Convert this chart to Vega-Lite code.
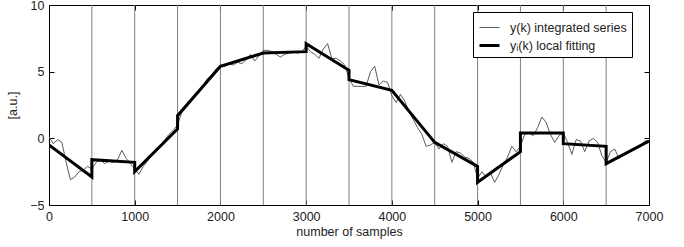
{
  "$schema": "https://vega.github.io/schema/vega-lite/v6.json",
  "width": 600,
  "height": 200,
  "autosize": "none",
  "padding": {"left": 49, "top": 5, "right": 35, "bottom": 42},
  "background": "white",
  "config": {
    "view": {"stroke": "black", "strokeWidth": 1},
    "font": "Liberation Sans",
    "axis": {
      "domain": false,
      "grid": false,
      "tickColor": "black",
      "tickSize": -5,
      "labelFontSize": 12.5,
      "labelColor": "#222",
      "titleFontSize": 12.5,
      "titleFontWeight": "normal",
      "titleColor": "#222"
    }
  },
  "datasets": {
    "series": [
      {"s": "y(k) integrated series", "k": 0, "v": 0.1, "i": 0},
      {"s": "y(k) integrated series", "k": 50, "v": -0.4, "i": 1},
      {"s": "y(k) integrated series", "k": 100, "v": -0.1, "i": 2},
      {"s": "y(k) integrated series", "k": 150, "v": -0.3, "i": 3},
      {"s": "y(k) integrated series", "k": 200, "v": -1.8, "i": 4},
      {"s": "y(k) integrated series", "k": 250, "v": -3.1, "i": 5},
      {"s": "y(k) integrated series", "k": 300, "v": -2.9, "i": 6},
      {"s": "y(k) integrated series", "k": 350, "v": -2.5, "i": 7},
      {"s": "y(k) integrated series", "k": 400, "v": -2.4, "i": 8},
      {"s": "y(k) integrated series", "k": 450, "v": -2.1, "i": 9},
      {"s": "y(k) integrated series", "k": 500, "v": -2.3, "i": 10},
      {"s": "y(k) integrated series", "k": 550, "v": -1.8, "i": 11},
      {"s": "y(k) integrated series", "k": 600, "v": -1.6, "i": 12},
      {"s": "y(k) integrated series", "k": 650, "v": -1.9, "i": 13},
      {"s": "y(k) integrated series", "k": 700, "v": -1.7, "i": 14},
      {"s": "y(k) integrated series", "k": 750, "v": -1.8, "i": 15},
      {"s": "y(k) integrated series", "k": 800, "v": -1.6, "i": 16},
      {"s": "y(k) integrated series", "k": 850, "v": -0.9, "i": 17},
      {"s": "y(k) integrated series", "k": 900, "v": -1.5, "i": 18},
      {"s": "y(k) integrated series", "k": 950, "v": -1.9, "i": 19},
      {"s": "y(k) integrated series", "k": 1000, "v": -2.3, "i": 20},
      {"s": "y(k) integrated series", "k": 1050, "v": -2.7, "i": 21},
      {"s": "y(k) integrated series", "k": 1100, "v": -2.1, "i": 22},
      {"s": "y(k) integrated series", "k": 1150, "v": -1.7, "i": 23},
      {"s": "y(k) integrated series", "k": 1200, "v": -1.2, "i": 24},
      {"s": "y(k) integrated series", "k": 1250, "v": -0.8, "i": 25},
      {"s": "y(k) integrated series", "k": 1300, "v": -0.5, "i": 26},
      {"s": "y(k) integrated series", "k": 1350, "v": -0.1, "i": 27},
      {"s": "y(k) integrated series", "k": 1400, "v": 0.3, "i": 28},
      {"s": "y(k) integrated series", "k": 1450, "v": 0.6, "i": 29},
      {"s": "y(k) integrated series", "k": 1500, "v": 1.0, "i": 30},
      {"s": "y(k) integrated series", "k": 1550, "v": 2.0, "i": 31},
      {"s": "y(k) integrated series", "k": 1600, "v": 2.4, "i": 32},
      {"s": "y(k) integrated series", "k": 1650, "v": 2.7, "i": 33},
      {"s": "y(k) integrated series", "k": 1700, "v": 3.2, "i": 34},
      {"s": "y(k) integrated series", "k": 1750, "v": 3.6, "i": 35},
      {"s": "y(k) integrated series", "k": 1800, "v": 4.0, "i": 36},
      {"s": "y(k) integrated series", "k": 1850, "v": 4.5, "i": 37},
      {"s": "y(k) integrated series", "k": 1900, "v": 4.8, "i": 38},
      {"s": "y(k) integrated series", "k": 1950, "v": 5.2, "i": 39},
      {"s": "y(k) integrated series", "k": 2000, "v": 5.5, "i": 40},
      {"s": "y(k) integrated series", "k": 2050, "v": 5.4, "i": 41},
      {"s": "y(k) integrated series", "k": 2100, "v": 5.6, "i": 42},
      {"s": "y(k) integrated series", "k": 2150, "v": 5.5, "i": 43},
      {"s": "y(k) integrated series", "k": 2200, "v": 5.7, "i": 44},
      {"s": "y(k) integrated series", "k": 2250, "v": 5.6, "i": 45},
      {"s": "y(k) integrated series", "k": 2300, "v": 5.9, "i": 46},
      {"s": "y(k) integrated series", "k": 2350, "v": 6.3, "i": 47},
      {"s": "y(k) integrated series", "k": 2400, "v": 5.8, "i": 48},
      {"s": "y(k) integrated series", "k": 2450, "v": 6.2, "i": 49},
      {"s": "y(k) integrated series", "k": 2500, "v": 6.6, "i": 50},
      {"s": "y(k) integrated series", "k": 2550, "v": 6.6, "i": 51},
      {"s": "y(k) integrated series", "k": 2600, "v": 6.5, "i": 52},
      {"s": "y(k) integrated series", "k": 2650, "v": 6.3, "i": 53},
      {"s": "y(k) integrated series", "k": 2700, "v": 6.1, "i": 54},
      {"s": "y(k) integrated series", "k": 2750, "v": 6.3, "i": 55},
      {"s": "y(k) integrated series", "k": 2800, "v": 6.4, "i": 56},
      {"s": "y(k) integrated series", "k": 2850, "v": 6.5, "i": 57},
      {"s": "y(k) integrated series", "k": 2900, "v": 6.4, "i": 58},
      {"s": "y(k) integrated series", "k": 2950, "v": 6.5, "i": 59},
      {"s": "y(k) integrated series", "k": 3000, "v": 6.9, "i": 60},
      {"s": "y(k) integrated series", "k": 3050, "v": 6.5, "i": 61},
      {"s": "y(k) integrated series", "k": 3100, "v": 6.3, "i": 62},
      {"s": "y(k) integrated series", "k": 3150, "v": 6.0, "i": 63},
      {"s": "y(k) integrated series", "k": 3200, "v": 6.7, "i": 64},
      {"s": "y(k) integrated series", "k": 3250, "v": 7.1, "i": 65},
      {"s": "y(k) integrated series", "k": 3300, "v": 6.0, "i": 66},
      {"s": "y(k) integrated series", "k": 3350, "v": 6.0, "i": 67},
      {"s": "y(k) integrated series", "k": 3400, "v": 5.8, "i": 68},
      {"s": "y(k) integrated series", "k": 3450, "v": 5.5, "i": 69},
      {"s": "y(k) integrated series", "k": 3500, "v": 4.5, "i": 70},
      {"s": "y(k) integrated series", "k": 3550, "v": 3.9, "i": 71},
      {"s": "y(k) integrated series", "k": 3600, "v": 3.9, "i": 72},
      {"s": "y(k) integrated series", "k": 3650, "v": 3.9, "i": 73},
      {"s": "y(k) integrated series", "k": 3700, "v": 3.9, "i": 74},
      {"s": "y(k) integrated series", "k": 3750, "v": 5.0, "i": 75},
      {"s": "y(k) integrated series", "k": 3800, "v": 5.4, "i": 76},
      {"s": "y(k) integrated series", "k": 3850, "v": 4.0, "i": 77},
      {"s": "y(k) integrated series", "k": 3900, "v": 4.3, "i": 78},
      {"s": "y(k) integrated series", "k": 3950, "v": 4.2, "i": 79},
      {"s": "y(k) integrated series", "k": 4000, "v": 3.2, "i": 80},
      {"s": "y(k) integrated series", "k": 4050, "v": 2.7, "i": 81},
      {"s": "y(k) integrated series", "k": 4100, "v": 3.3, "i": 82},
      {"s": "y(k) integrated series", "k": 4150, "v": 2.8, "i": 83},
      {"s": "y(k) integrated series", "k": 4200, "v": 2.0, "i": 84},
      {"s": "y(k) integrated series", "k": 4250, "v": 1.4, "i": 85},
      {"s": "y(k) integrated series", "k": 4300, "v": 0.8, "i": 86},
      {"s": "y(k) integrated series", "k": 4350, "v": 0.3, "i": 87},
      {"s": "y(k) integrated series", "k": 4400, "v": -0.6, "i": 88},
      {"s": "y(k) integrated series", "k": 4450, "v": -0.5, "i": 89},
      {"s": "y(k) integrated series", "k": 4500, "v": -0.3, "i": 90},
      {"s": "y(k) integrated series", "k": 4550, "v": -0.8, "i": 91},
      {"s": "y(k) integrated series", "k": 4600, "v": -0.4, "i": 92},
      {"s": "y(k) integrated series", "k": 4650, "v": -0.6, "i": 93},
      {"s": "y(k) integrated series", "k": 4700, "v": -1.8, "i": 94},
      {"s": "y(k) integrated series", "k": 4750, "v": -1.0, "i": 95},
      {"s": "y(k) integrated series", "k": 4800, "v": -1.1, "i": 96},
      {"s": "y(k) integrated series", "k": 4850, "v": -1.4, "i": 97},
      {"s": "y(k) integrated series", "k": 4900, "v": -1.5, "i": 98},
      {"s": "y(k) integrated series", "k": 4950, "v": -1.8, "i": 99},
      {"s": "y(k) integrated series", "k": 5000, "v": -3.0, "i": 100},
      {"s": "y(k) integrated series", "k": 5050, "v": -2.5, "i": 101},
      {"s": "y(k) integrated series", "k": 5100, "v": -2.9, "i": 102},
      {"s": "y(k) integrated series", "k": 5150, "v": -2.6, "i": 103},
      {"s": "y(k) integrated series", "k": 5200, "v": -3.3, "i": 104},
      {"s": "y(k) integrated series", "k": 5250, "v": -2.7, "i": 105},
      {"s": "y(k) integrated series", "k": 5300, "v": -2.0, "i": 106},
      {"s": "y(k) integrated series", "k": 5350, "v": -1.4, "i": 107},
      {"s": "y(k) integrated series", "k": 5400, "v": -0.6, "i": 108},
      {"s": "y(k) integrated series", "k": 5450, "v": -1.0, "i": 109},
      {"s": "y(k) integrated series", "k": 5500, "v": -0.6, "i": 110},
      {"s": "y(k) integrated series", "k": 5550, "v": 0.3, "i": 111},
      {"s": "y(k) integrated series", "k": 5600, "v": 0.4, "i": 112},
      {"s": "y(k) integrated series", "k": 5650, "v": 0.2, "i": 113},
      {"s": "y(k) integrated series", "k": 5700, "v": 0.8, "i": 114},
      {"s": "y(k) integrated series", "k": 5750, "v": 1.6, "i": 115},
      {"s": "y(k) integrated series", "k": 5800, "v": 1.2, "i": 116},
      {"s": "y(k) integrated series", "k": 5850, "v": 0.3, "i": 117},
      {"s": "y(k) integrated series", "k": 5900, "v": -0.3, "i": 118},
      {"s": "y(k) integrated series", "k": 5950, "v": 0.2, "i": 119},
      {"s": "y(k) integrated series", "k": 6000, "v": 0.4, "i": 120},
      {"s": "y(k) integrated series", "k": 6050, "v": -0.3, "i": 121},
      {"s": "y(k) integrated series", "k": 6100, "v": -1.2, "i": 122},
      {"s": "y(k) integrated series", "k": 6150, "v": -0.1, "i": 123},
      {"s": "y(k) integrated series", "k": 6200, "v": -0.2, "i": 124},
      {"s": "y(k) integrated series", "k": 6250, "v": -1.0, "i": 125},
      {"s": "y(k) integrated series", "k": 6300, "v": -0.2, "i": 126},
      {"s": "y(k) integrated series", "k": 6350, "v": 0.0, "i": 127},
      {"s": "y(k) integrated series", "k": 6400, "v": -0.3, "i": 128},
      {"s": "y(k) integrated series", "k": 6450, "v": -1.3, "i": 129},
      {"s": "y(k) integrated series", "k": 6500, "v": -1.8, "i": 130},
      {"s": "y(k) integrated series", "k": 6550, "v": -1.0, "i": 131},
      {"s": "y(k) integrated series", "k": 6600, "v": -0.8, "i": 132},
      {"s": "y(k) integrated series", "k": 6650, "v": -1.5, "i": 133},
      {"s": "y(k) integrated series", "k": 6700, "v": -1.2, "i": 134},
      {"s": "y(k) integrated series", "k": 6750, "v": -1.0, "i": 135},
      {"s": "y(k) integrated series", "k": 6800, "v": -0.9, "i": 136},
      {"s": "y(k) integrated series", "k": 6850, "v": -0.7, "i": 137},
      {"s": "y(k) integrated series", "k": 6900, "v": -0.6, "i": 138},
      {"s": "y(k) integrated series", "k": 6950, "v": -0.2, "i": 139},
      {"s": "y(k) integrated series", "k": 7000, "v": -0.2, "i": 140},
      {"s": "yᵢ(k) local fitting", "k": 0, "v": -0.5, "i": 0},
      {"s": "yᵢ(k) local fitting", "k": 500, "v": -2.9, "i": 1},
      {"s": "yᵢ(k) local fitting", "k": 500, "v": -1.6, "i": 2},
      {"s": "yᵢ(k) local fitting", "k": 1000, "v": -1.8, "i": 3},
      {"s": "yᵢ(k) local fitting", "k": 1000, "v": -2.5, "i": 4},
      {"s": "yᵢ(k) local fitting", "k": 1500, "v": 0.7, "i": 5},
      {"s": "yᵢ(k) local fitting", "k": 1500, "v": 1.7, "i": 6},
      {"s": "yᵢ(k) local fitting", "k": 2000, "v": 5.4, "i": 7},
      {"s": "yᵢ(k) local fitting", "k": 2500, "v": 6.4, "i": 8},
      {"s": "yᵢ(k) local fitting", "k": 3000, "v": 6.5, "i": 9},
      {"s": "yᵢ(k) local fitting", "k": 3000, "v": 7.1, "i": 10},
      {"s": "yᵢ(k) local fitting", "k": 3500, "v": 5.1, "i": 11},
      {"s": "yᵢ(k) local fitting", "k": 3500, "v": 4.4, "i": 12},
      {"s": "yᵢ(k) local fitting", "k": 4000, "v": 3.6, "i": 13},
      {"s": "yᵢ(k) local fitting", "k": 4500, "v": -0.3, "i": 14},
      {"s": "yᵢ(k) local fitting", "k": 5000, "v": -2.1, "i": 15},
      {"s": "yᵢ(k) local fitting", "k": 5000, "v": -3.3, "i": 16},
      {"s": "yᵢ(k) local fitting", "k": 5500, "v": -1.0, "i": 17},
      {"s": "yᵢ(k) local fitting", "k": 5500, "v": 0.4, "i": 18},
      {"s": "yᵢ(k) local fitting", "k": 6000, "v": 0.4, "i": 19},
      {"s": "yᵢ(k) local fitting", "k": 6000, "v": -0.4, "i": 20},
      {"s": "yᵢ(k) local fitting", "k": 6500, "v": -0.6, "i": 21},
      {"s": "yᵢ(k) local fitting", "k": 6500, "v": -1.9, "i": 22},
      {"s": "yᵢ(k) local fitting", "k": 7000, "v": -0.2, "i": 23}
    ],
    "dividers": [
      {"k": 500}, {"k": 1000}, {"k": 1500}, {"k": 2000}, {"k": 2500}, {"k": 3000}, {"k": 3500},
      {"k": 4000}, {"k": 4500}, {"k": 5000}, {"k": 5500}, {"k": 6000}, {"k": 6500}
    ]
  },
  "layer": [
    {
      "data": {"name": "dividers"},
      "mark": {"type": "rule", "color": "#808080", "strokeWidth": 1},
      "encoding": {
        "x": {"field": "k", "type": "quantitative", "scale": {"domain": [0, 7000], "nice": false}, "axis": null}
      }
    },
    {
      "data": {"name": "series"},
      "mark": {"type": "line", "strokeJoin": "miter", "clip": true},
      "encoding": {
        "x": {"field": "k", "type": "quantitative", "scale": {"domain": [0, 7000], "nice": false},
              "axis": {"values": [0, 1000, 2000, 3000, 4000, 5000, 6000, 7000], "format": "d", "title": "number of samples", "labelPadding": 10, "titlePadding": 3, "labelFlush": false}},
        "y": {"field": "v", "type": "quantitative", "scale": {"domain": [-5, 10], "nice": false, "zero": false},
              "axis": {"values": [-5, 0, 5, 10], "format": "d", "title": "[a.u.]", "labelPadding": 10, "titlePadding": 10, "labelFlush": false}},
        "order": {"field": "i"},
        "detail": {"field": "s"},
        "color": {"field": "s", "type": "nominal",
                  "scale": {"domain": ["y(k) integrated series", "yᵢ(k) local fitting"], "range": ["#5a5a5a", "#000000"]},
                  "legend": {"title": null, "orient": "none", "legendX": 424, "legendY": 7, "symbolType": "stroke", "symbolSize": 400,
                             "labelFontSize": 12.5, "labelColor": "#222", "labelOffset": 9, "padding": 5, "rowPadding": 0,
                             "strokeColor": "black", "fillColor": "white"}},
        "strokeWidth": {"field": "s", "type": "nominal",
                        "scale": {"domain": ["y(k) integrated series", "yᵢ(k) local fitting"], "range": [1, 3]},
                        "legend": {"title": null, "orient": "none", "legendX": 424, "legendY": 7, "symbolType": "stroke", "symbolSize": 400,
                             "labelFontSize": 12.5, "labelColor": "#222", "labelOffset": 9, "padding": 5, "rowPadding": 0,
                             "strokeColor": "black", "fillColor": "white"}}
      }
    },
    {
      "data": {"name": "series"},
      "mark": {"type": "point", "opacity": 0},
      "encoding": {
        "x": {"field": "k", "type": "quantitative", "scale": {"domain": [0, 7000], "nice": false},
              "axis": {"orient": "top", "values": [0, 1000, 2000, 3000, 4000, 5000, 6000, 7000], "labels": false, "title": null}},
        "y": {"field": "v", "type": "quantitative", "scale": {"domain": [-5, 10], "nice": false, "zero": false},
              "axis": {"orient": "right", "values": [-5, 0, 5, 10], "labels": false, "title": null}}
      }
    }
  ],
  "resolve": {"axis": {"x": "independent", "y": "independent"}}
}
